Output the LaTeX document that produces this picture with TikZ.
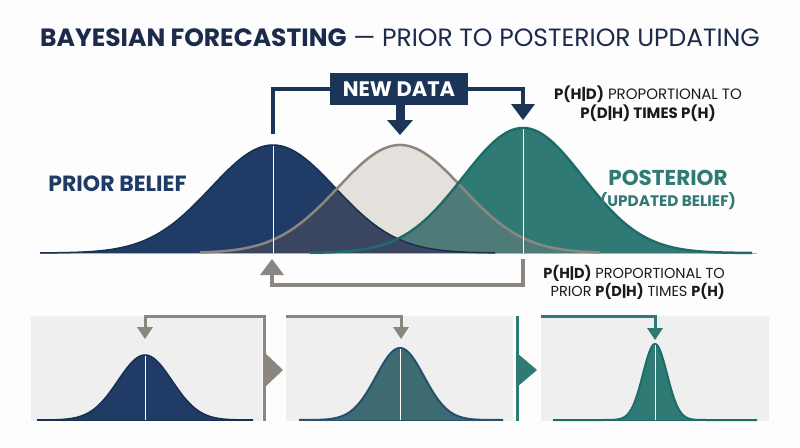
\documentclass[tikz,border=0pt]{standalone}
\usepackage{fontspec}
\setmainfont{Poppins}
\definecolor{bgc}{HTML}{FDFDFD}
\definecolor{navy}{HTML}{1F3B66}
\definecolor{navyline}{HTML}{16304F}
\definecolor{navybox}{HTML}{1C3458}
\definecolor{titlec}{HTML}{1B2B4B}
\definecolor{slate}{HTML}{3A465F}
\definecolor{lgray}{HTML}{E4E0DC}
\definecolor{gteal}{HTML}{4E7B78}
\definecolor{tealc}{HTML}{2F7A74}
\definecolor{tealline}{HTML}{1E6C68}
\definecolor{grayl}{HTML}{8B8680}
\definecolor{panelc}{HTML}{EFEFEF}
\definecolor{midfill}{HTML}{3E6B72}
\definecolor{midline}{HTML}{27506A}
\definecolor{txt}{HTML}{1A1A1A}
\definecolor{baseln}{HTML}{A3B6C6}
\newcommand\bellfill[6]{(#1,#5) -- plot[domain=#1:#2,samples=160] (\x,{#5-#4*exp(-0.5*((\x-#3)/#6)^2)}) -- (#2,#5) -- cycle}
\newcommand\bellline[6]{plot[domain=#1:#2,samples=160] (\x,{#5-#4*exp(-0.5*((\x-#3)/#6)^2)})}
\begin{document}
\begin{tikzpicture}[x=1pt,y=-1pt,
  bracketnavy/.style={navybox,line width=4pt},
  bracketgray/.style={grayl,line width=4pt},
  smallgray/.style={grayl,line width=3pt},
  smallteal/.style={tealc,line width=3pt},
  centerln/.style={white,line width=1pt},
  lbl/.style={inner sep=0pt}]
\useasboundingbox (0,0) rectangle (800,447);
\fill[bgc] (0,0) rectangle (800,447);

% title
\node[lbl,text=titlec,font=\fontsize{25}{28}\selectfont] (title) at (400,38)
  {\textbf{BAYESIAN FORECASTING} — PRIOR TO POSTERIOR UPDATING};

% main curves fills
\fill[tealc] \bellfill{310}{752}{523}{125}{253}{60};
\fill[navy] \bellfill{40}{495}{273}{108}{253}{62};
\begin{scope}
  \clip \bellfill{200}{600}{400}{108}{253}{62};
  \fill[lgray] (0,0) rectangle (800,447);
  \begin{scope}
    \clip \bellfill{310}{752}{523}{125}{253}{60};
    \fill[gteal] (0,0) rectangle (800,447);
  \end{scope}
  \begin{scope}
    \clip \bellfill{40}{495}{273}{108}{253}{62};
    \fill[slate] (0,0) rectangle (800,447);
  \end{scope}
\end{scope}
\draw[baseln,line width=1pt] (40,253) -- (757,253);
\draw[navyline,line width=1.5pt] \bellline{40}{495}{273}{108}{253}{62};
\draw[grayl,line width=2.5pt] \bellline{200}{600}{400}{108}{253}{62};
\draw[tealline,line width=2.5pt] \bellline{310}{752}{523}{125}{253}{60};
\draw[centerln] (273,253) -- (273,146);
\draw[centerln] (523,253) -- (523,129);

% new data bracket
\node[fill=navybox,text=white,minimum width=138pt,minimum height=32pt,inner sep=0pt,
  font=\bfseries\fontsize{21}{22}\selectfont] (newdata) at (399,89) {NEW DATA};
\coordinate (pl) at (273,134);
\coordinate (pr) at (523,105);
\coordinate (pm) at (400,121);
\draw[bracketnavy] (pl) |- (newdata.west);
\draw[bracketnavy] (newdata.east) -| (pr);
\fill[navybox] (511,104) -- (535,104) -- (523,120) -- cycle;
\draw[navybox,line width=9pt] (newdata.south -| pm) -- (pm);
\fill[navybox] (387,120) -- (413,120) -- (400,135) -- cycle;

% return arrow
\coordinate (ra) at (523,259);
\coordinate (rb) at (272,275);
\draw[bracketgray] (ra) -- ++(0,26) -| (rb);
\fill[grayl] (260,275) -- (284,275) -- (272,259) -- cycle;

% labels
\node[lbl,text=navy,font=\bfseries\fontsize{22}{24}\selectfont] (priorlbl) at (117.5,184) {PRIOR BELIEF};
\node[lbl,text=tealc,font=\bfseries\fontsize{21.5}{24}\selectfont] (postlbl) at (668,178) {POSTERIOR};
\node[lbl,text=tealc,font=\bfseries\fontsize{15.3}{17}\selectfont] (postsub) at (668,201) {(UPDATED BELIEF)};
\node[lbl,text=txt,align=center,font=\fontsize{15}{19}\selectfont] (f1) at (648,104)
  {\textbf{P(H|D)} PROPORTIONAL TO\\\textbf{P(D|H) TIMES P(H)}};
\node[lbl,text=txt,align=right,anchor=east,font=\fontsize{14.5}{18}\selectfont] (f2) at (725,282)
  {\textbf{P(H|D)} PROPORTIONAL TO\\PRIOR \textbf{P(D|H)} TIMES \textbf{P(H)}};

% panels
\fill[panelc] (31,316) rectangle (262,421);
\fill[panelc] (286,316) rectangle (513,421);
\fill[panelc] (541,316) rectangle (769,421);

\fill[navy] \bellfill{37}{253}{145}{65}{420}{27};
\draw[navyline,line width=1.5pt] \bellline{37}{253}{145}{65}{420}{27};
\draw[navyline,line width=1pt] (37,420) -- (253,420);
\draw[centerln] (145,420) -- (145,356);

\fill[midfill] \bellfill{299}{503}{400}{72}{420}{24};
\draw[midline,line width=2pt] \bellline{299}{503}{400}{72}{420}{24};
\draw[midline,line width=1pt] (299,420) -- (503,420);
\draw[centerln] (400,420) -- (400,349);

\fill[tealc] \bellfill{553}{757}{655}{76}{420}{12};
\draw[tealline,line width=2pt] \bellline{553}{757}{655}{76}{420}{12};
\draw[tealline,line width=1pt] (553,420) -- (757,420);
\draw[centerln] (655,420) -- (655,345);

% panel brackets
\coordinate (a1) at (145,328);
\coordinate (a2) at (401,328);
\coordinate (a3) at (655,329);
\draw[smallgray] (a1) |- (264,316) -- (264,421);
\fill[grayl] (137,327) -- (153,327) -- (145,339) -- cycle;
\fill[grayl] (264,352) -- (283,370) -- (264,388) -- cycle;
\draw[smallgray] (286,316) -| (a2);
\fill[grayl] (393,327) -- (409,327) -- (401,339) -- cycle;
\draw[smallteal] (517,316) -- (517,421);
\fill[tealc] (517,353) -- (537,370) -- (517,387) -- cycle;
\draw[smallteal] (541,316) -| (a3);
\fill[tealc] (647,328) -- (663,328) -- (655,340) -- cycle;
\end{tikzpicture}
\end{document}
